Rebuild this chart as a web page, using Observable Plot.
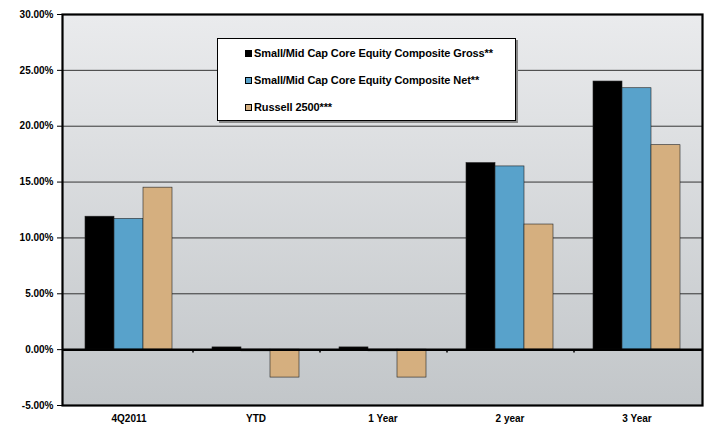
<!DOCTYPE html>
<html><head><meta charset="utf-8">
<script src="https://cdn.jsdelivr.net/npm/d3@7"></script>
<script src="https://cdn.jsdelivr.net/npm/@observablehq/plot@0.6"></script>
<style>
body{margin:0;background:#fff;font-family:"Liberation Sans",Arial,sans-serif;}
#wrap{position:relative;width:706px;height:432px;}
#legend{position:absolute;left:217px;top:38px;width:297px;height:81px;background:#fff;border:1px solid #000;box-shadow:2px 2px 0 #888;font:bold 11px "Liberation Sans",Arial,sans-serif;letter-spacing:-0.1px;}
.item{position:absolute;left:27px;white-space:nowrap;display:flex;align-items:center;line-height:13px;}
.sw{display:inline-block;width:5px;height:5px;border:1px solid #000;margin-right:2px;}
</style></head>
<body><div id="wrap"></div>
<script>
const categories = ["4Q2011","YTD","1 Year","2 year","3 Year"];
const seriesNames = ["Small/Mid Cap Core Equity Composite Gross**","Small/Mid Cap Core Equity Composite Net**","Russell 2500***"];
const grossValues = [11.9, 0.2, 0.2, 16.7, 24.0];
const netValues = [11.7, -0.15, -0.15, 16.4, 23.4];
const russellValues = [14.5, -2.5, -2.5, 11.2, 18.3];
const yTicks = [-5,0,5,10,15,20,25,30];
const colors = ["#000000","#58a2cb","#d5af7f"];

const allSeries = [grossValues, netValues, russellValues];
const data = [];
allSeries.forEach((vals, s) => vals.forEach((v, i) => data.push({category: categories[i], series: seriesNames[s], s, value: v})));

const barW = 29;
const bars = [0,1,2].map(s => Plot.barY(data.filter(d => d.s === s), {
  x: "category", y: "value", fill: colors[s], stroke: "#222", strokeWidth: 0.6, dx: (s-1)*barW
}));

const plot = Plot.plot({
  width: 706, height: 432,
  marginLeft: 62, marginRight: 4, marginTop: 14, marginBottom: 27,
  style: {fontFamily: '"Liberation Sans", Arial, sans-serif', fontSize: "10px", fontWeight: "bold", color: "#000", background: "transparent"},
  x: {domain: categories, paddingInner: 1 - barW/128, paddingOuter: 0.387, label: null, tickSize: 0, tickPadding: 9},
  y: {domain: [-5, 30], ticks: yTicks, tickFormat: d => d.toFixed(2) + "%", label: null, tickSize: 5, tickPadding: 4},
  marks: [
    Plot.frame({fill: "url(#bgGrad)"}),
    Plot.gridY(yTicks, {stroke: "#222", strokeOpacity: 1, strokeWidth: 0.9}),
    ...bars,
    Plot.ruleY([0], {stroke: "#000", strokeWidth: 2.5}),
    Plot.ruleX(categories.slice(0, -1), {x: d => d, dx: 64, y1: 0, y2: -0.3, stroke: "#000", strokeWidth: 1.5}),
    Plot.frame({stroke: "#000", strokeWidth: 2.2})
  ]
});
const ns = "http://www.w3.org/2000/svg";
const defs = document.createElementNS(ns, "defs");
defs.innerHTML = '<linearGradient id="bgGrad" x1="0" y1="0" x2="0" y2="1"><stop offset="0" stop-color="#eaebed"/><stop offset="1" stop-color="#c2c6c9"/></linearGradient>';
plot.insertBefore(defs, plot.firstChild);
document.getElementById("wrap").appendChild(plot);

const legend = document.createElement("div");
legend.id = "legend";
seriesNames.forEach((name, i) => {
  const it = document.createElement("div");
  it.className = "item";
  it.style.top = (8 + i*27) + "px";
  it.innerHTML = `<span class="sw" style="background:${colors[i]}"></span>${name}`;
  legend.appendChild(it);
});
document.getElementById("wrap").appendChild(legend);
</script></body></html>
